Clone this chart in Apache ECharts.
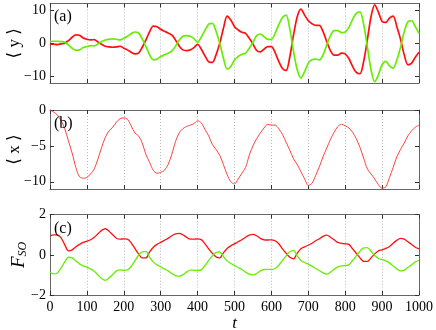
<!DOCTYPE html>
<html>
<head>
<meta charset="utf-8">
<script src="https://cdn.jsdelivr.net/npm/echarts@6/dist/echarts.min.js"></script>
<style>
html, body { margin: 0; padding: 0; background: #fff; }
#chart { width: 436px; height: 330px; }
</style>
</head>
<body>
<div id="chart"></div>
<script>
// time samples (every 10 units)
var times = [0,10,20,30,40,50,60,70,80,90,100,110,120,130,140,150,160,170,180,190,200,
  210,220,230,240,250,260,270,280,290,300,310,320,330,340,350,360,370,380,390,400,
  410,420,430,440,450,460,470,480,490,500,510,520,530,540,550,560,570,580,590,600,
  610,620,630,640,650,660,670,680,690,700,710,720,730,740,750,760,770,780,790,800,
  810,820,830,840,850,860,870,880,890,900,910,920,930,940,950,960,970,980,990,1000];

// panel (a) <y>
var yRed = [-0.3,-0.3,-0.4,-0.2,0.0,0.8,1.8,2.5,2.4,1.6,1.2,1.0,1.1,0.4,-0.3,-0.9,-1.1,-1.2,-1.1,-0.9,
  -1.5,-2.0,-2.7,-3.2,-3.0,-1.2,1.0,3.5,5.2,5.0,4.2,3.6,3.1,2.5,1.0,-0.8,-2.0,-2.2,-2.0,-1.3,
  -0.3,-1.8,-3.8,-5.6,-5.8,-3.5,0.0,4.5,8.2,7.0,5.0,4.0,3.3,3.0,1.5,-0.2,-2.2,-2.6,-1.8,-1.0,
  -1.0,-2.8,-5.5,-7.6,-8.2,-4.0,2.5,8.0,10.3,8.5,6.8,5.9,5.4,5.4,3.5,0.5,-2.2,-3.6,-3.6,-3.0,
  -3.2,-4.6,-7.0,-8.8,-9.2,-5.5,1.0,8.0,11.6,9.4,6.6,6.3,7.6,8.2,5.0,1.2,-3.5,-6.5,-6.0,-4.2,-2.7];
var yGreen = [0.5,0.6,0.6,0.5,0.3,-0.5,-1.5,-2.1,-2.0,-1.3,-1.0,-0.7,-0.8,-0.2,0.5,1.0,1.2,1.3,1.2,1.0,
  1.5,2.1,2.9,3.4,3.1,1.3,-1.0,-3.5,-5.0,-4.8,-4.0,-3.5,-3.0,-2.4,-0.9,0.9,2.1,2.3,2.1,1.4,
  0.3,1.9,3.9,5.8,6.0,3.6,0.0,-4.5,-7.8,-7.0,-5.0,-4.0,-3.3,-3.0,-1.5,0.3,2.3,2.8,2.0,1.2,
  1.2,3.0,5.6,7.8,8.5,4.2,-2.5,-8.0,-10.5,-8.6,-6.0,-5.0,-4.8,-5.0,-3.5,-0.5,2.3,3.8,3.8,3.2,
  3.4,4.8,7.2,9.0,9.5,5.7,-1.0,-8.0,-11.6,-9.5,-6.5,-5.5,-6.8,-7.5,-5.0,-1.2,3.5,6.5,6.8,5.0,3.0];

// panel (b) <x>
var xRed = [0,-0.3,-0.7,-1.5,-2.6,-4.3,-6.0,-8.0,-9.3,-9.5,-9.4,-8.9,-8.2,-6.8,-5.2,-3.8,-2.9,-2.4,-1.7,-1.2,
  -1.1,-1.3,-2.2,-3.2,-3.6,-4.6,-6.2,-7.3,-8.4,-8.8,-8.7,-8.4,-7.6,-6.2,-4.4,-3.2,-2.6,-2.3,-2.1,-1.9,
  -1.5,-1.8,-2.7,-3.6,-4.8,-5.5,-6.3,-7.6,-9.0,-10.0,-10.3,-9.6,-8.8,-8.0,-6.3,-5.0,-4.0,-3.2,-2.5,-2.0,
  -2.1,-2.1,-2.6,-3.4,-4.5,-5.6,-6.8,-7.6,-8.6,-9.6,-10.5,-10.2,-9.1,-7.9,-6.5,-5.3,-4.1,-3.1,-2.3,-2.0,
  -2.2,-2.5,-3.1,-4.0,-5.2,-6.7,-8.2,-8.9,-9.6,-10.4,-10.9,-10.7,-9.4,-8.0,-6.5,-5.5,-4.6,-3.6,-2.9,-2.4,-2.1];

// panel (c) F_SO
var fRed = [0.95,1.0,1.0,0.85,0.5,0.2,0.25,0.4,0.52,0.62,0.68,0.75,0.88,1.05,1.22,1.3,1.18,1.0,0.83,0.78,
  0.8,0.78,0.6,0.32,0.05,-0.15,-0.15,0.15,0.38,0.52,0.62,0.72,0.82,0.95,1.05,1.07,1.0,0.88,0.78,0.78,
  0.8,0.76,0.55,0.3,0.08,-0.1,-0.15,0.1,0.32,0.45,0.55,0.65,0.75,0.88,0.98,1.02,0.95,0.82,0.75,0.74,
  0.75,0.7,0.55,0.3,0.08,-0.12,-0.2,0.08,0.3,0.4,0.48,0.58,0.7,0.8,0.92,0.98,0.88,0.75,0.62,0.57,
  0.55,0.52,0.3,0.08,-0.15,-0.32,-0.33,-0.15,0.05,0.2,0.25,0.32,0.42,0.58,0.72,0.82,0.78,0.65,0.52,0.38,0.3];
var fGreen = [-0.85,-0.95,-0.9,-0.65,-0.35,-0.12,-0.15,-0.3,-0.45,-0.55,-0.62,-0.7,-0.82,-1.0,-1.18,-1.27,-1.15,-0.98,-0.8,-0.75,
  -0.77,-0.75,-0.58,-0.3,-0.02,0.15,0.17,-0.12,-0.36,-0.5,-0.6,-0.7,-0.8,-0.93,-1.03,-1.06,-1.0,-0.86,-0.76,-0.76,
  -0.78,-0.75,-0.53,-0.28,-0.05,0.12,0.15,-0.08,-0.3,-0.43,-0.53,-0.63,-0.73,-0.86,-0.96,-1.0,-0.93,-0.8,-0.73,-0.72,
  -0.73,-0.68,-0.52,-0.28,-0.05,0.15,0.22,-0.05,-0.28,-0.38,-0.46,-0.56,-0.68,-0.78,-0.9,-0.96,-0.86,-0.72,-0.6,-0.55,
  -0.53,-0.5,-0.28,-0.05,0.18,0.35,0.36,0.18,-0.03,-0.18,-0.23,-0.3,-0.4,-0.56,-0.7,-0.8,-0.76,-0.62,-0.5,-0.35,-0.27];

// labelled ticks
var yTickSets = [[-10, 0, 10], [-10, -5, 0], [-2, 0, 2]];
var yRanges = [[-12, 12], [-11, 0], [-2, 2]];
var yNames = ['\u27E8 y \u27E9', '\u27E8 x \u27E9', '{f|F}{s|SO}'];

function pairs(v) {
    return times.map(function (t, i) { return [t, v[i]]; });
}

var SERIF = '"Liberation Serif", "DejaVu Serif", serif';
var FRAME = '#666';
var RED = '#ff1010';
var GREEN = '#66ee00';

function minus(v) { return String(v).replace('-', '\u2212'); }

var grids = [
    {left: 50, right: 17, top: 3.5, height: 79.5, outerBoundsMode: 'none', containLabel: false},
    {left: 50, right: 17, top: 110, height: 79, outerBoundsMode: 'none', containLabel: false},
    {left: 50, right: 17, top: 214.7, height: 80.3, outerBoundsMode: 'none', containLabel: false}
];

var xAxes = [], yAxes = [];

for (var g = 0; g < 3; g++) {
    // bottom x axis
    xAxes.push({
        type: 'value', gridIndex: g, min: 0, max: 1000, interval: 100,
        axisLine: {show: true, onZero: false, lineStyle: {color: FRAME, width: 1}},
        axisTick: {show: true, inside: true, length: 4, lineStyle: {color: '#333'}},
        axisLabel: {show: g === 2, color: '#000', fontFamily: SERIF, fontSize: 14, margin: 5,
            formatter: function (v) { return String(v); }},
        splitLine: {show: true, lineStyle: {color: '#b8b8b8', type: [1, 2], width: 1}},
        name: g === 2 ? 't' : '',
        nameLocation: 'middle', nameGap: 20, nameMoveOverlap: false,
        nameTextStyle: {fontFamily: SERIF, fontStyle: 'italic', fontSize: 17, color: '#000'}
    });
    // top x axis (box)
    xAxes.push({
        type: 'value', gridIndex: g, position: 'top', min: 0, max: 1000, interval: 100,
        axisLine: {show: true, onZero: false, lineStyle: {color: FRAME, width: 1}},
        axisTick: {show: true, inside: true, length: 4, lineStyle: {color: '#333'}},
        axisLabel: {show: false}, splitLine: {show: false}
    });
    var r = yRanges[g];
    yAxes.push({
        type: 'value', gridIndex: g, min: r[0], max: r[1],
        axisLine: {show: true, onZero: false, lineStyle: {color: FRAME, width: 1}},
        axisTick: {show: true, inside: true, length: 4, lineStyle: {color: '#333'},
            customValues: yTickSets[g]},
        axisLabel: {color: '#000', fontFamily: SERIF, fontSize: 14, margin: 4,
            customValues: yTickSets[g], formatter: minus},
        splitLine: {show: false},
        name: yNames[g], nameLocation: 'middle', nameRotate: 90, nameGap: g === 2 ? 21 : 27,
        nameMoveOverlap: false,
        nameTextStyle: {fontFamily: SERIF, fontSize: 17, color: '#000',
            rich: {
                f: {fontFamily: SERIF, fontStyle: 'italic', fontSize: 19, color: '#000'},
                s: {fontFamily: SERIF, fontStyle: 'italic', fontSize: 12, color: '#000', padding: [8, 0, 0, 0]}
            }}
    });
    yAxes.push({
        type: 'value', gridIndex: g, position: 'right', min: r[0], max: r[1],
        axisLine: {show: true, onZero: false, lineStyle: {color: FRAME, width: 1}},
        axisTick: {show: true, inside: true, length: 4, lineStyle: {color: '#333'},
            customValues: yTickSets[g]},
        axisLabel: {show: false}, splitLine: {show: false}
    });
}

function line(data, color, gi, width) {
    return {
        type: 'line', data: pairs(data), xAxisIndex: gi * 2, yAxisIndex: gi * 2,
        symbol: 'none', smooth: 0.3, animation: false,
        lineStyle: {color: color, width: width}
    };
}

var chart = echarts.init(document.getElementById('chart'));
chart.setOption({
    animation: false,
    grid: grids,
    xAxis: xAxes,
    yAxis: yAxes,
    title: [
        {text: '(a)', left: 54, top: 9, textStyle: {fontFamily: SERIF, fontSize: 16, fontWeight: 'normal', color: '#000'}, padding: 0},
        {text: '(b)', left: 54, top: 116, textStyle: {fontFamily: SERIF, fontSize: 16, fontWeight: 'normal', color: '#000'}, padding: 0},
        {text: '(c)', left: 54, top: 221, textStyle: {fontFamily: SERIF, fontSize: 16, fontWeight: 'normal', color: '#000'}, padding: 0}
    ],
    series: [
        line(yRed, RED, 0, 1.7),
        line(yGreen, GREEN, 0, 1.7),
        line(xRed, '#ff4040', 1, 1),
        line(fRed, RED, 2, 1.3),
        line(fGreen, GREEN, 2, 1.3)
    ]
});
</script>
</body>
</html>
